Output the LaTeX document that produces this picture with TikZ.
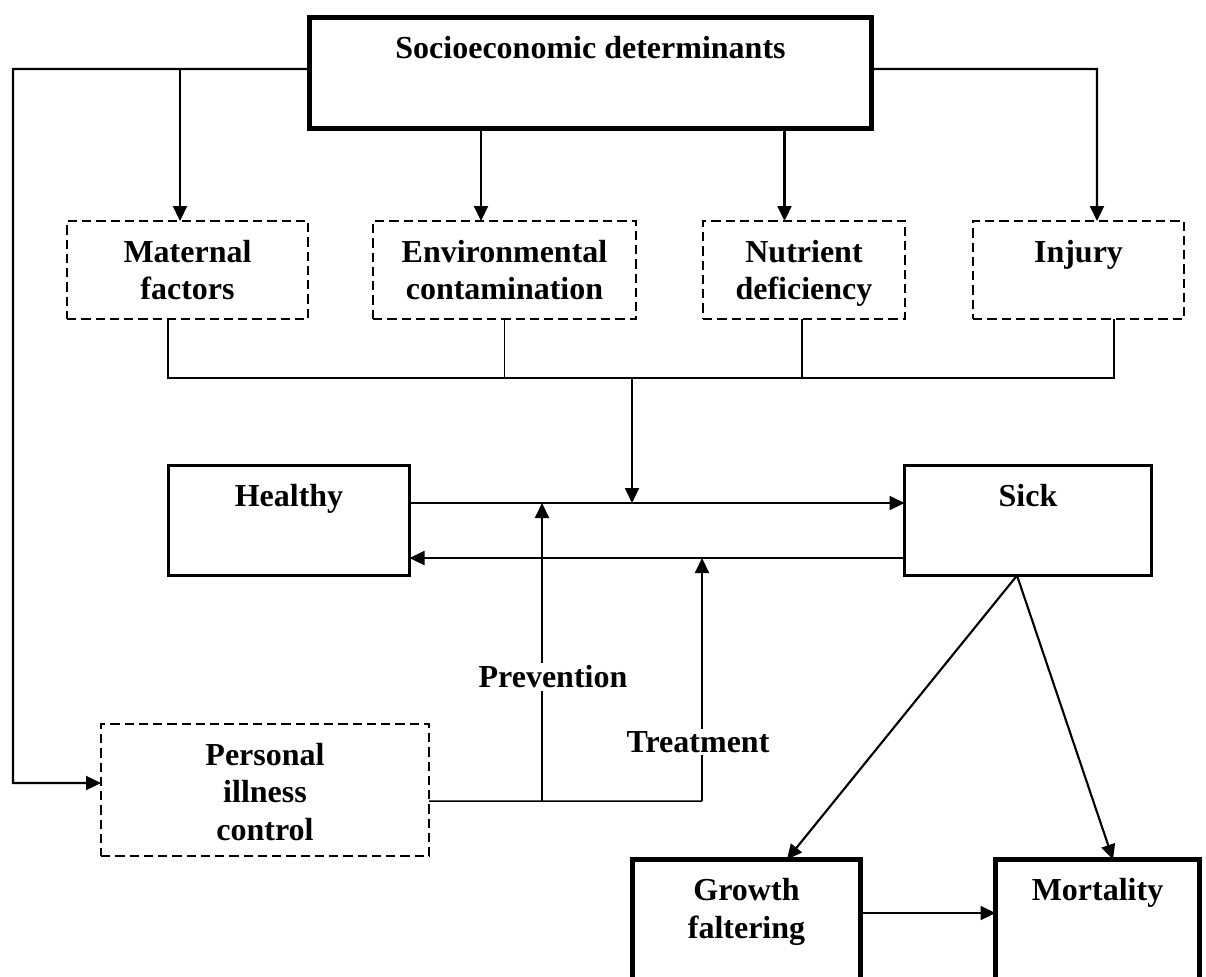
\documentclass[tikz,border=0pt]{standalone}
\usepackage{fontspec}
\setmainfont{Liberation Serif}
\usepackage{tikz}
\usetikzlibrary{arrows.meta}

\tikzset{
  lbl/.style={font=\bfseries\fontsize{12.8}{15}\selectfont,
              inner sep=0pt, outer sep=0pt, anchor=north west},
  heavybox/.style={lbl, draw, line width=2.3pt},
  plainbox/.style={lbl, draw, line width=1.4pt},
  dashbox/.style={lbl, draw, line width=0.95pt, dash pattern=on 3.7pt off 2pt},
  arr/.style={line width=0.85pt, -{Triangle[length=6pt,width=5.6pt]}},
  link/.style={line width=0.6pt},
}
% text sits at the top of a box of fixed size
\newcommand{\boxtxt}[3]{\parbox[t][#2][t]{#1}{\centering\rule{0pt}{16.4pt}#3}}

\begin{document}
\begin{tikzpicture}[x=0.4pt,y=-0.4pt]
  \useasboundingbox (0,0) rectangle (1206,976);

  % boxes
  \node[heavybox] (socio) at (309.5,17.5) {\boxtxt{224.8pt}{44.4pt}{Socioeconomic determinants}};
  \node[dashbox] (maternal) at (67,221) {\boxtxt{96.4pt}{39.2pt}{Maternal\\factors}};
  \node[dashbox] (environ) at (373,221) {\boxtxt{105.2pt}{39.2pt}{Environmental\\contamination}};
  \node[dashbox] (nutrient) at (703,221) {\boxtxt{80.8pt}{39.2pt}{Nutrient\\deficiency}};
  \node[dashbox] (injury) at (973,221) {\boxtxt{84.4pt}{39.2pt}{Injury}};
  \node[plainbox] (healthy) at (168.5,465.5) {\boxtxt{96.4pt}{44pt}{Healthy}};
  \node[plainbox] (sick) at (904.5,465.5) {\boxtxt{98.8pt}{44pt}{Sick}};
  \node[dashbox] (personal) at (101,724) {\boxtxt{131.2pt}{52.8pt}{Personal\\illness\\control}};
  \node[heavybox] (growth) at (632.5,859.5) {\boxtxt{91.2pt}{52pt}{Growth\\faltering}};
  \node[heavybox] (mortal) at (995.5,859.5) {\boxtxt{81.6pt}{52pt}{Mortality}};

  % determinants fan out
  \coordinate (lftop) at (13,69);
  \coordinate (lfbot) at (13,783);
  \coordinate (mtop) at (180,69);
  \coordinate (rttop) at (1097,69);
  \draw[arr] ([yshift=1.6pt]socio.west) -- (lftop) -- (lfbot) -- (lfbot -| personal.west);
  \draw[arr] (mtop) -- (mtop |- maternal.north);
  \draw[arr] ([xshift=-9.4pt]environ.north |- socio.south) -- ([xshift=-9.4pt]environ.north);
  \draw[arr] ([xshift=-7.8pt]nutrient.north |- socio.south) -- ([xshift=-7.8pt]nutrient.north);
  \draw[arr] ([yshift=1.6pt]socio.east) -- (rttop) -- (rttop |- injury.north);

  % collecting bus
  \coordinate (bus) at (632,378);
  \draw[link] ([xshift=-7.8pt]maternal.south) |- ([xshift=14.2pt]injury.south |- bus)
    -- ([xshift=14.2pt]injury.south);
  \draw[link] (environ.south) -- (environ.south |- bus);
  \draw[link] ([xshift=-0.8pt]nutrient.south) -- ([xshift=-0.8pt]nutrient.south |- bus);

  % healthy <-> sick
  \coordinate (hsline) at ([yshift=7pt]healthy.east);
  \coordinate (shline) at ([yshift=-15pt]sick.west);
  \draw[arr] (hsline) -- (hsline -| sick.west);
  \draw[arr] (shline) -- (shline -| healthy.east);
  \draw[arr] (bus) -- (bus |- hsline);

  % illness control
  \coordinate (pcline) at ([yshift=-4.4pt]personal.east);
  \coordinate (prev) at (542,801);
  \coordinate (treat) at (702,801);
  \draw[link] (pcline) -- (treat);
  \draw[arr] (prev) -- (prev |- hsline);
  \draw[arr] (treat) -- (treat |- shline);
  \node[lbl, anchor=center, fill=white, inner sep=1pt] (prevlbl) at (553,677) {Prevention};
  \node[lbl, anchor=center, fill=white, inner sep=1pt] (treatlbl) at (698,742) {Treatment};

  % outcomes
  \draw[arr] ([xshift=-4.4pt]sick.south) -- ([xshift=16.2pt]growth.north);
  \draw[arr] ([xshift=-4.4pt]sick.south) -- ([xshift=6.2pt]mortal.north);
  \draw[arr] ([yshift=4.6pt]growth.east) -- ([yshift=4.6pt]growth.east -| mortal.west);
\end{tikzpicture}
\end{document}
